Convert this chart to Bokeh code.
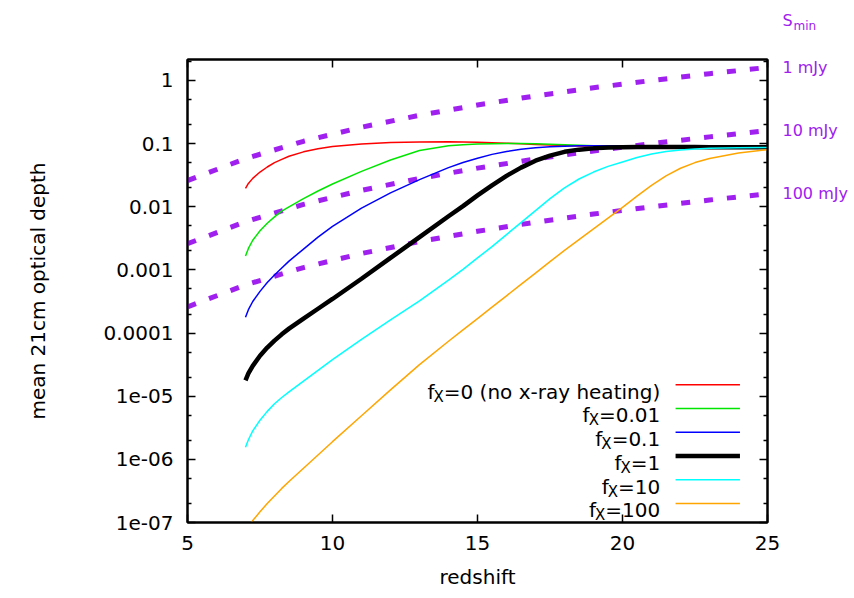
from bokeh.plotting import figure
from bokeh.models import (Range1d, FixedTicker, LogAxis, LinearAxis, Label, ColumnDataSource,
                          CustomJSTickFormatter)
from bokeh.embed import file_html
from bokeh.resources import INLINE

# ---------------- data ----------------
REDSHIFT = [7, 7.1, 7.25, 7.5, 7.75, 8, 8.25, 8.5, 9, 9.5, 10, 11, 12, 13, 14, 14.5, 15,
            15.5, 16, 16.5, 17, 17.5, 18, 18.5, 19, 19.5, 20, 20.5, 21, 21.5, 22, 22.5,
            23, 24, 25]

TAU_FX0 = [1.950e-2, 2.344e-2, 2.818e-2, 3.548e-2, 4.266e-2, 5.012e-2, 5.623e-2, 6.310e-2,
           7.413e-2, 8.318e-2, 9.016e-2, 9.886e-2, 1.040e-1, 1.066e-1, 1.072e-1, 1.064e-1,
           1.052e-1, 1.035e-1, 1.016e-1, 9.954e-2, 9.727e-2, 9.506e-2, 9.311e-2, 9.162e-2,
           9.036e-2, 8.954e-2, 8.892e-2, 8.851e-2, 8.831e-2, 8.810e-2, 8.790e-2, 8.790e-2,
           8.770e-2, 8.750e-2, 8.750e-2]
TAU_FX001 = [1.660e-3, 2.188e-3, 2.951e-3, 4.169e-3, 5.495e-3, 6.918e-3, 8.511e-3, 1.000e-2,
             1.349e-2, 1.778e-2, 2.291e-2, 3.631e-2, 5.495e-2, 7.762e-2, 9.226e-2, 9.616e-2,
             9.863e-2, 1.000e-1, 1.005e-1, 1.002e-1, 9.931e-2, 9.795e-2, 9.638e-2, 9.462e-2,
             9.290e-2, 9.141e-2, 9.036e-2, 8.954e-2, 8.892e-2, 8.851e-2, 8.810e-2, 8.790e-2,
             8.770e-2, 8.750e-2, 8.750e-2]
TAU_FX01 = [1.778e-4, 2.344e-4, 3.162e-4, 4.571e-4, 6.310e-4, 8.318e-4, 1.072e-3, 1.380e-3,
            2.138e-3, 3.311e-3, 4.898e-3, 9.550e-3, 1.660e-2, 2.692e-2, 4.169e-2, 5.012e-2,
            5.888e-2, 6.761e-2, 7.499e-2, 8.128e-2, 8.590e-2, 8.913e-2, 9.120e-2, 9.247e-2,
            9.290e-2, 9.290e-2, 9.247e-2, 9.162e-2, 9.078e-2, 8.995e-2, 8.913e-2, 8.851e-2,
            8.810e-2, 8.770e-2, 8.750e-2]
TAU_FX1 = [1.778e-5, 2.291e-5, 3.020e-5, 4.365e-5, 5.888e-5, 7.586e-5, 9.550e-5, 1.175e-4,
           1.698e-4, 2.427e-4, 3.467e-4, 7.244e-4, 1.549e-3, 3.311e-3, 7.079e-3, 1.023e-2,
           1.514e-2, 2.188e-2, 3.090e-2, 4.169e-2, 5.370e-2, 6.457e-2, 7.413e-2, 8.035e-2,
           8.414e-2, 8.650e-2, 8.770e-2, 8.810e-2, 8.831e-2, 8.831e-2, 8.810e-2, 8.810e-2,
           8.790e-2, 8.770e-2, 8.750e-2]
TAU_FX10 = [1.549e-6, 2.042e-6, 2.818e-6, 4.169e-6, 5.754e-6, 7.586e-6, 9.550e-6, 1.175e-5,
            1.738e-5, 2.570e-5, 3.802e-5, 7.943e-5, 1.622e-4, 3.236e-4, 6.918e-4, 1.023e-3,
            1.549e-3, 2.344e-3, 3.631e-3, 5.623e-3, 8.710e-3, 1.349e-2, 1.995e-2, 2.754e-2,
            3.548e-2, 4.365e-2, 5.129e-2, 6.026e-2, 6.839e-2, 7.499e-2, 7.943e-2, 8.260e-2,
            8.433e-2, 8.630e-2, 8.710e-2]
TAU_FX100 = [7.586e-8, 8.710e-8, 1.072e-7, 1.479e-7, 1.995e-7, 2.630e-7, 3.467e-7, 4.467e-7,
             7.244e-7, 1.175e-6, 1.905e-6, 4.898e-6, 1.259e-5, 3.162e-5, 7.413e-5, 1.122e-4,
             1.698e-4, 2.570e-4, 3.890e-4, 5.888e-4, 8.913e-4, 1.349e-3, 2.042e-3, 3.020e-3,
             4.467e-3, 6.607e-3, 9.772e-3, 1.479e-2, 2.188e-2, 3.090e-2, 4.074e-2, 5.012e-2,
             5.821e-2, 7.079e-2, 8.035e-2]

FX_VALUES = ["0 (no x-ray heating)", "0.01", "0.1", "1", "10", "100"]

SMIN_Z = [5, 7, 9, 11, 13, 15, 17, 19, 21, 23, 25]
SMIN_1MJY = [0.026, 0.058, 0.109, 0.182, 0.281, 0.409, 0.570, 0.767, 1.00, 1.28, 1.61]
SMIN_10MJY = [0.0026, 0.0058, 0.0109, 0.0182, 0.0281, 0.0409, 0.0570, 0.0767, 0.100, 0.128, 0.161]
SMIN_100MJY = [0.00026, 0.00058, 0.00109, 0.00182, 0.00281, 0.00409, 0.00570, 0.00767,
               0.0100, 0.0128, 0.0161]
SMIN_LABELS = ["1 mJy", "10 mJy", "100 mJy"]

X_TICKS = [5, 10, 15, 20, 25]
Y_TICKS = [1e-7, 1e-6, 1e-5, 1e-4, 1e-3, 1e-2, 1e-1, 1]
Y_TICK_LABELS = ["1e-07", "1e-06", "1e-05", "0.0001", "0.001", "0.01", "0.1", "1"]

# ---------------- styles ----------------
FONT = "DejaVu Sans"
PURPLE = "#a020f0"
COLORS = ["#ff0000", "#00e600", "#0000ff", "#000000", "#00ffff", "#ffa500"]
WIDTHS = [1.5, 1.5, 1.5, 4.5, 1.5, 1.5]
SERIES = [TAU_FX0, TAU_FX001, TAU_FX01, TAU_FX1, TAU_FX10, TAU_FX100]

p = figure(width=850, height=596, x_range=Range1d(5, 25), y_range=Range1d(1e-7, 2.15),
           y_axis_type="log", output_backend="svg", toolbar_location=None,
           min_border_left=187, min_border_right=82, min_border_top=59, min_border_bottom=74)
p.grid.visible = False
p.outline_line_color = "black"
p.outline_line_width = 2
p.background_fill_color = "white"
p.border_fill_color = "white"
p.title.text = ""
p.title.standoff = 0

minor = [m * 10.0 ** e for e in range(-7, 1) for m in (2, 5) if m * 10.0 ** e < 2.15]

xa = p.xaxis[0]
xa.ticker = FixedTicker(ticks=X_TICKS, minor_ticks=[])
ya = p.yaxis[0]
ya.ticker = FixedTicker(ticks=Y_TICKS, minor_ticks=minor)
ya.major_label_overrides = {t: l for t, l in zip(Y_TICKS, Y_TICK_LABELS)}

for ax in (xa, ya):
    ax.axis_line_width = 2
    ax.major_tick_in = 8
    ax.major_tick_out = 0
    ax.minor_tick_in = 4
    ax.minor_tick_out = 0
    ax.major_tick_line_width = 1.5
    ax.minor_tick_line_width = 1.5
    ax.major_label_text_font = FONT
    ax.major_label_text_font_size = "20px"
    ax.major_label_text_color = "black"
    ax.axis_label_text_font = FONT
    ax.axis_label_text_font_size = "20px"
    ax.axis_label_text_font_style = "normal"
    ax.axis_label_text_color = "black"

xa.axis_label = "redshift"
xa.major_label_standoff = 13
xa.axis_label_standoff = 12
ya.axis_label = "mean 21cm optical depth"
ya.major_label_standoff = 14
ya.axis_label_standoff = 51

blank = CustomJSTickFormatter(code="return ''")
ra = LogAxis(ticker=FixedTicker(ticks=Y_TICKS, minor_ticks=minor), formatter=blank,
             major_label_standoff=0, axis_line_width=2, major_tick_in=8, major_tick_out=0,
             minor_tick_in=4, minor_tick_out=0, major_tick_line_width=1.5,
             minor_tick_line_width=1.5)
p.add_layout(ra, "right")

smin_ends = [SMIN_1MJY[-1], SMIN_10MJY[-1], SMIN_100MJY[-1]]
ra2 = LogAxis(ticker=FixedTicker(ticks=smin_ends, minor_ticks=[]),
              major_label_overrides={t: l for t, l in zip(smin_ends, SMIN_LABELS)},
              major_label_standoff=15, axis_line_color=None, major_tick_line_color=None,
              minor_tick_line_color=None, major_tick_in=0, major_tick_out=0,
              minor_tick_in=0, minor_tick_out=0,
              major_label_text_color=PURPLE, major_label_text_font=FONT,
              major_label_text_font_size="16px")
p.add_layout(ra2, "right")

ta = LinearAxis(ticker=FixedTicker(ticks=X_TICKS, minor_ticks=[]), formatter=blank,
                major_label_standoff=0, axis_line_width=2, major_tick_in=8, major_tick_out=0,
                major_tick_line_width=1.5)
p.add_layout(ta, "above")

# S_min heading above the right edge ("S" with subscript "min"), in the top panel
p.add_layout(Label(x=25, y=8.9, x_offset=15, text="S", text_baseline="middle",
                   text_font=FONT, text_font_size="16px", text_color=PURPLE), "above")
p.add_layout(Label(x=25, y=7.3, x_offset=26, text="min", text_baseline="middle",
                   text_font=FONT, text_font_size="12px", text_color=PURPLE), "above")

# S_min dashed lines
for s in (SMIN_1MJY, SMIN_10MJY, SMIN_100MJY):
    p.line(SMIN_Z, s, line_color=PURPLE, line_width=5, line_dash="9 14")

# model curves
for ys, c, w in zip(SERIES, COLORS, WIDTHS):
    p.line(REDSHIFT, ys, line_color=c, line_width=w)

# legend (text right-aligned, sample line to the right)
CW = {'0': .636, '1': .636, '2': .636, '3': .636, '4': .636, '5': .636, '6': .636,
      '7': .636, '8': .636, '9': .636, '=': .838, ' ': .318, '(': .390, ')': .390,
      '.': .318, '-': .361, 'f': .352, 'X': .685, 'n': .634, 'o': .612, 'x': .592,
      'r': .411, 'a': .613, 'y': .592, 'h': .634, 'e': .615, 't': .392, 'i': .278,
      'g': .635}


def tw(s, size):
    return sum(CW.get(ch, 0.6) for ch in s) * size


LEG_TEXT_X = 21.3
LEG_X0, LEG_X1 = 21.83, 24.05
leg_top = 10 ** -4.818
leg_step = 10 ** -0.376
rows = [leg_top * leg_step ** i for i in range(len(FX_VALUES))]
rest = ["=" + v for v in FX_VALUES]
w_rest = [tw(r, 20) for r in rest]
w_x = tw("X", 15)

src_rest = ColumnDataSource(dict(x=[LEG_TEXT_X] * 6, y=rows, text=rest))
src_x = ColumnDataSource(dict(x=[LEG_TEXT_X] * 6, y=rows, text=["X"] * 6,
                              xo=[-w for w in w_rest]))
src_f = ColumnDataSource(dict(x=[LEG_TEXT_X] * 6, y=rows, text=["f"] * 6,
                              xo=[-(w + w_x - 1) for w in w_rest]))
p.text(x="x", y="y", text="text", source=src_rest, text_align="right",
       text_baseline="alphabetic", y_offset=7, text_font={"value": FONT},
       text_font_size="20px", text_color="black")
p.text(x="x", y="y", text="text", source=src_x, x_offset="xo", text_align="right",
       text_baseline="alphabetic", y_offset=12, text_font={"value": FONT},
       text_font_size="15px", text_color="black")
p.text(x="x", y="y", text="text", source=src_f, x_offset="xo", text_align="right",
       text_baseline="alphabetic", y_offset=7, text_font={"value": FONT},
       text_font_size="20px", text_color="black")
p.segment(x0=[LEG_X0] * 6, x1=[LEG_X1] * 6, y0=rows, y1=rows,
          line_color=COLORS, line_width=WIDTHS)

open("out.html", "w").write(file_html(p, INLINE))
